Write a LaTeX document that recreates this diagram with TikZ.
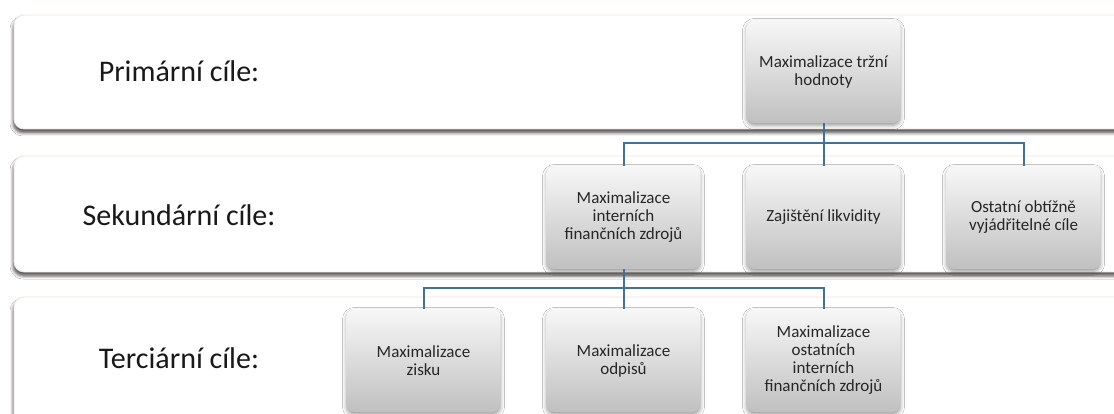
\documentclass[tikz,border=0pt]{standalone}
\usepackage{fontspec}
\setmainfont{Carlito}
\usetikzlibrary{shadows.blur,calc}
\definecolor{conncol}{HTML}{41709A}
\definecolor{bandedge}{HTML}{F3E3D8}
\definecolor{boxtop}{HTML}{F7F7F7}
\definecolor{boxbot}{HTML}{C0C0C0}
\tikzset{
  band/.style={draw=bandedge, line width=0.8pt, fill=white, rounded corners=10pt,
    blur shadow={shadow xshift=-1pt, shadow yshift=-4pt, shadow blur radius=3pt, shadow opacity=65}},
  goal/.style={rectangle, rounded corners=8pt, minimum width=154pt, minimum height=103pt,
    top color=boxtop, bottom color=boxbot, draw=none, align=center, inner sep=2pt,
    font=\fontsize{17}{18}\selectfont, text=black!85,
    blur shadow={shadow xshift=0pt, shadow yshift=-2.5pt, shadow blur radius=4pt, shadow opacity=40}},
  level/.style={font=\fontsize{30}{36}\selectfont, text=black!90, anchor=center},
  conn/.style={draw=conncol, line width=2pt}
}
\begin{document}
\begin{tikzpicture}[x=1pt,y=-1pt]
\useasboundingbox (0,0) rectangle (1114,414);
\clip (0,0) rectangle (1114,414);
\fill[white] (0,0) rectangle (1114,414);
% bands
\path[band] (14,15) rectangle (1135,129);
\path[band] (14,156) rectangle (1135,272);
\path[band] (14,297) rectangle (1135,440);
% level labels
\node[level] (l1) at (179,71) {Primární cíle:};
\node[level] (l2) at (179,215) {Sekundární cíle:};
\node[level] (l3) at (179,358) {Terciární cíle:};
% boxes
\node[goal] (p)  at (823.5,71.5) {Maximalizace tržní\\hodnoty};
\node[goal] (s1) at (623.5,217.5) {Maximalizace\\interních\\finančních zdrojů};
\node[goal] (s2) at (823.5,217.5) {Zajištění likvidity};
\node[goal] (s3) at (1023.5,217.5) {Ostatní obtížně\\vyjádřitelné cíle};
\node[goal] (t1) at (423.5,360.5) {Maximalizace\\zisku};
\node[goal] (t2) at (623.5,360.5) {Maximalizace\\odpisů};
\node[goal] (t3) at (823.5,360.5) {Maximalizace\\ostatních\\interních\\finančních zdrojů};
% connectors
\coordinate (j1) at (823.5,143);
\coordinate (j2) at (623.5,288);
\draw[conn] (p.south) -- (j1);
\draw[conn] (j1) -| (s1.north);
\draw[conn] (j1) -- (s2.north);
\draw[conn] (j1) -| (s3.north);
\draw[conn] (s1.south) -- (j2);
\draw[conn] (j2) -| (t1.north);
\draw[conn] (j2) -- (t2.north);
\draw[conn] (j2) -| (t3.north);
\end{tikzpicture}
\end{document}
